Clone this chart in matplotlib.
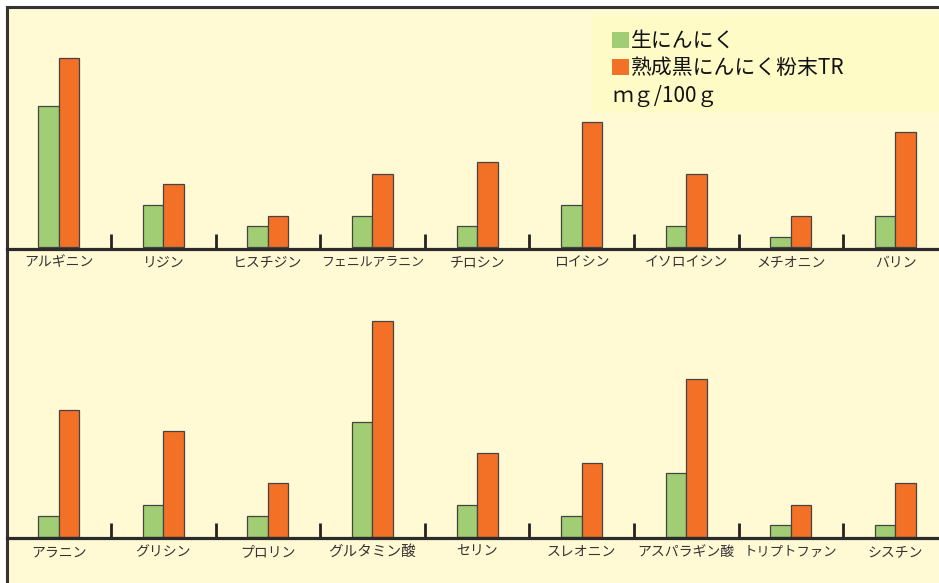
import matplotlib
matplotlib.use('Agg')
import matplotlib.pyplot as plt
import numpy as np
from matplotlib.patches import Rectangle

plt.rcParams['font.family'] = ['Noto Sans CJK JP', 'DejaVu Sans']

# mg/100g
top_names = ['アルギニン', 'リジン', 'ヒスチジン', 'フェニルアラニン', 'チロシン',
             'ロイシン', 'イソロイシン', 'メチオニン', 'バリン']
top_raw = [135, 40, 20, 30, 20, 40, 20, 10, 30]
top_aged = [181, 60, 30, 70, 81, 120, 70, 30, 110]

bottom_names = ['アラニン', 'グリシン', 'プロリン', 'グルタミン酸', 'セリン',
                'スレオニン', 'アスパラギン酸', 'トリプトファン', 'シスチン']
bottom_raw = [20, 30, 20, 110, 30, 20, 61, 11, 11]
bottom_aged = [121, 101, 51, 206, 80, 70, 151, 30, 51]

legend_labels = ['生にんにく', '熟成黒にんにく粉末TR']
unit_label = 'ｍｇ/100ｇ'

green = '#A1CE74'
orange = '#F37027'
bg_col = '#FFF9D4'

# the long names are squeezed a bit in the original
label_size = {'フェニルアラニン': 9.3, 'トリプトファン': 9.6, 'グルタミン酸': 10.5}

W, H = 939, 583
fig = plt.figure(figsize=(W / 100, H / 100), dpi=100)
fig.patch.set_facecolor('white')

# yellow frame with the left and top border lines
bg = fig.add_axes([7 / W, 0, 1 - 7 / W, 1 - 7 / H])
bg.set_facecolor(bg_col)
bg.set_xticks([])
bg.set_yticks([])
for s in ['right', 'bottom']:
    bg.spines[s].set_visible(False)
for s in ['left', 'top']:
    bg.spines[s].set_linewidth(2.2)
    bg.spines[s].set_color('#333333')

# legend panel
fig.add_artist(Rectangle((592 / W, 1 - 113 / H), (W - 592) / W, 98 / H,
                         transform=fig.transFigure, facecolor='#FFFBC6',
                         edgecolor='none', zorder=1))

px_per_mg = 1.045
x0, step = 58.7, 104.6
xlim = ((7 - x0) / step, (W - x0) / step)
w = 0.196


def panel(base_px, top_px, names, raw, aged):
    ax = fig.add_axes([7 / W, (H - base_px) / H, (W - 7) / W, (base_px - top_px) / H])
    ax.patch.set_alpha(0)
    x = np.arange(len(names))
    ax.bar(x - w / 2, raw, w, color=green, edgecolor='#444444', linewidth=0.9, zorder=2)
    ax.bar(x + w / 2, aged, w, color=orange, edgecolor='#444444', linewidth=0.9, zorder=2)
    ax.set_xlim(*xlim)
    # bars sit on the top edge of the thick baseline
    ax.set_ylim(-1.5 / px_per_mg, (base_px - top_px - 1.5) / px_per_mg)
    for s in ['left', 'right', 'top']:
        ax.spines[s].set_visible(False)
    ax.spines['bottom'].set_linewidth(2.3)
    ax.spines['bottom'].set_color('#2b2b2b')
    ax.spines['bottom'].set_zorder(3)
    ax.set_yticks([])
    ax.set_xticks(x)
    ax.set_xticklabels(names, fontsize=10, color='#333333')
    for t in ax.get_xticklabels():
        t.set_fontsize(label_size.get(t.get_text(), 10))
    ax.set_xticks(x[:-1] + 0.5, minor=True)
    ax.tick_params(axis='x', which='major', length=0, pad=5)
    ax.tick_params(axis='x', which='minor', direction='in', length=11,
                   width=2, color='#222222')
    return ax


panel(248.5, 7, top_names, top_raw, top_aged)
panel(538, 280, bottom_names, bottom_raw, bottom_aged)

# legend entries
for i, (lab, col) in enumerate(zip(legend_labels, [green, orange])):
    yc = 40 + i * 27
    fig.add_artist(Rectangle((612 / W, 1 - (yc + 8) / H), 17 / W, 16 / H,
                             transform=fig.transFigure, facecolor=col,
                             edgecolor='none', zorder=2))
    fig.text(631 / W, 1 - (yc + 1) / H, lab, fontsize=15, color='#111111',
             va='center', ha='left')
fig.text(612 / W, 1 - 96 / H, unit_label, fontsize=15, color='#111111',
         va='center', ha='left')

fig.savefig('out.png', dpi=100, facecolor=fig.get_facecolor())
